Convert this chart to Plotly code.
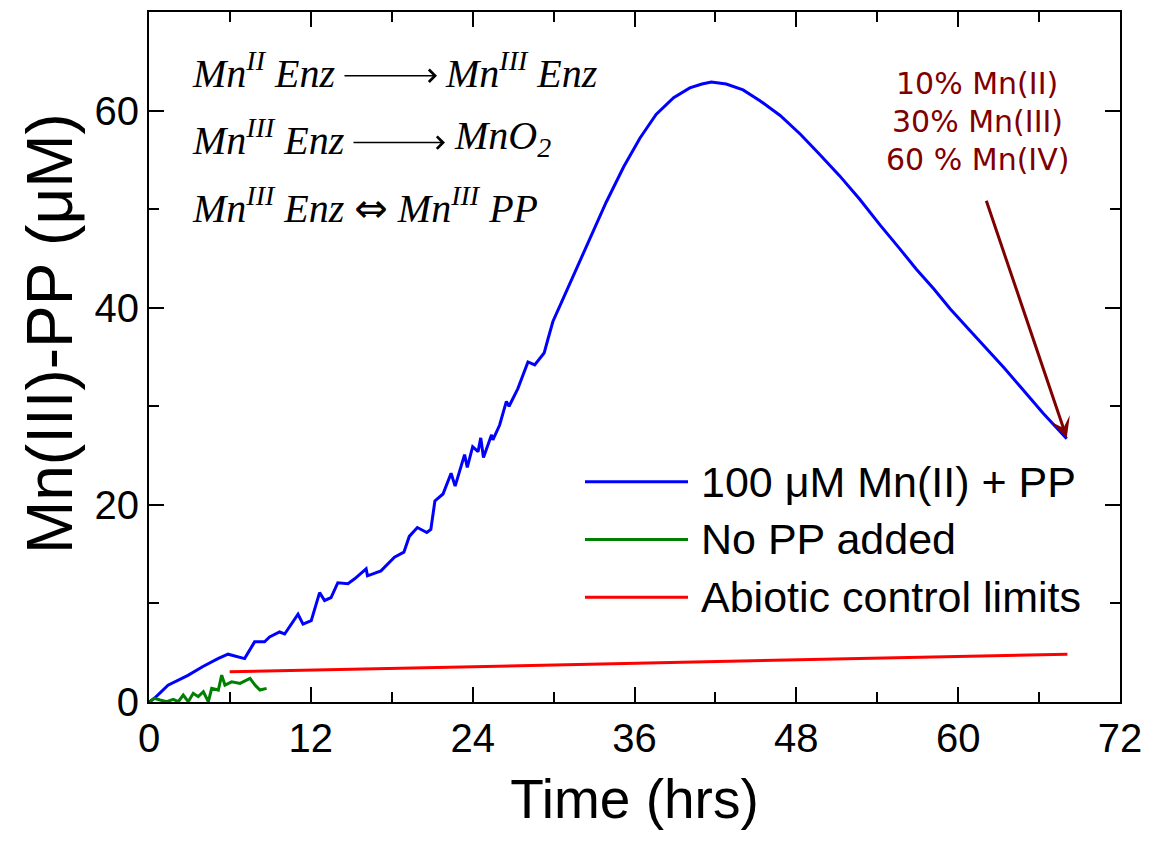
import plotly.graph_objects as go

# ---- data ----
blue_t = [0, 0.42, 1.41, 2.89, 4.0, 5.11, 5.86, 6.5, 7.09, 7.83, 8.57, 8.94, 9.68, 10.06,
          11.05, 11.42, 12.03, 12.65, 13.02, 13.5, 14.0, 14.75, 15.25, 16.1, 16.2, 17.2,
          18.2, 18.9, 19.3, 19.9, 20.6, 20.9, 21.2, 21.8, 22.4, 22.7, 23.4, 23.6, 24.0,
          24.4, 24.6, 24.8, 25.4, 25.5, 26.0, 26.5, 26.7, 27.35, 28.1, 28.6, 29.3, 29.6,
          29.95, 30.6, 31.45, 32.7, 33.9, 35.2, 36.4, 37.6, 38.9, 40.1, 41.0, 41.7, 42.8,
          44.05, 45.3, 46.8, 48.3, 49.7, 51.2, 52.7, 54.2, 55.6, 56.9, 58.2, 59.4, 60.8,
          62.1, 63.4, 64.6, 66.3, 68.05]
blue_v = [0, 0.4, 1.7, 2.7, 3.6, 4.4, 4.85, 4.6, 4.4, 6.1, 6.1, 6.6, 7.1, 6.9,
          8.9, 7.9, 8.25, 11.1, 10.3, 10.6, 12.1, 12.0, 12.5, 13.5, 12.8, 13.3,
          14.7, 15.2, 16.8, 17.7, 17.2, 17.5, 20.4, 21.1, 23.2, 21.9, 25.1, 23.8, 25.9,
          25.4, 26.8, 24.8, 27.1, 26.6, 28.1, 30.5, 30.0, 31.8, 34.5, 34.2, 35.4, 36.9,
          38.6, 40.6, 43.2, 47.0, 50.7, 54.3, 57.2, 59.6, 61.3, 62.3, 62.7, 62.9, 62.7,
          62.1, 61.0, 59.5, 57.6, 55.6, 53.4, 51.0, 48.4, 46.1, 43.9, 41.9, 39.9, 37.8,
          35.9, 33.9, 32.0, 29.3, 26.7]

green_t = [0.07, 0.4, 0.82, 1.31, 1.8, 2.17, 2.54, 2.91, 3.28, 3.65, 4.03, 4.4, 4.65,
           5.14, 5.39, 5.63, 6.13, 6.75, 7.49, 7.86, 8.23, 8.72]
green_v = [0.03, 0.37, 0.2, 0.03, 0.27, 0.03, 0.71, 0.03, 0.88, 0.54, 1.04, 0.03, 1.38,
           1.21, 2.73, 1.72, 2.05, 1.89, 2.4, 1.72, 1.21, 1.38]

red_t = [5.98, 68.1]
red_v = [3.06, 4.85]

series_names = ["100 \u03bcM Mn(II) + PP", "No PP added", "Abiotic control limits"]
series_colors = ["#0000ff", "#008000", "#ff0000"]

x_ticks = [0, 12, 24, 36, 48, 60, 72]
y_ticks = [0, 20, 40, 60]

note_lines = ["10% Mn(II)", "30% Mn(III)", "60 % Mn(IV)"]
arrow_head = (68.05, 26.8)
arrow_tail = (62.05, 51.0)

SANS = "Liberation Sans, Arial, sans-serif"
SERIF = "Liberation Serif, Times New Roman, serif"

fig = go.Figure()
fig.add_trace(go.Scatter(x=blue_t, y=blue_v, mode="lines", name=series_names[0],
                         line=dict(color=series_colors[0], width=3), showlegend=False))
fig.add_trace(go.Scatter(x=green_t, y=green_v, mode="lines", name=series_names[1],
                         line=dict(color=series_colors[1], width=3), showlegend=False))
fig.add_trace(go.Scatter(x=red_t, y=red_v, mode="lines", name=series_names[2],
                         line=dict(color=series_colors[2], width=3), showlegend=False))

L, R, T, B = 149, 38, 10, 141
W, H = 1158, 843
pw, ph = W - L - R, H - T - B

def px2paper(px, py):
    return (px - L) / pw, (H - B - py) / ph

axis_common = dict(showgrid=False, zeroline=False, showline=True, linecolor="black",
                   linewidth=2, mirror="ticks", ticks="inside", ticklen=15,
                   tickwidth=2, tickcolor="black",
                   tickfont=dict(family=SANS, size=40, color="black"))

fig.update_xaxes(range=[0, 72], tickvals=x_ticks, **axis_common,
                 minor=dict(dtick=6, ticks="inside", ticklen=10, tickwidth=2,
                            tickcolor="black"),
                 title=dict(text="Time (hrs)", font=dict(family=SANS, size=55, color="black"),
                            standoff=20))
fig.update_yaxes(range=[0, 70], tickvals=y_ticks, **axis_common,
                 minor=dict(dtick=10, ticks="inside", ticklen=10, tickwidth=2,
                            tickcolor="black"))

annotations = []
# y-axis title
annotations.append(dict(text="Mn(III)-PP (\u03bcM)", xref="paper", yref="paper",
                        x=(50 - L) / pw, y=(H - B - 333) / ph, showarrow=False,
                        textangle=-90, xanchor="center", yanchor="middle",
                        font=dict(family=SANS, size=64, color="black")))

# reaction scheme: left part, arrow, right part
EQF = dict(family=SERIF, size=40, color="black")
eq_rows = [
    # (left text, right text, y centre, arrow x0, arrow x1, right text x)
    ("<i>Mn<sup>II</sup> Enz</i>", "<i>Mn<sup>III</sup> Enz</i>", 69, 343, 437, 443),
    ("<i>Mn<sup>III</sup> Enz</i>", "<i>MnO<sub>2</sub></i>", 136, 352, 445, 452),
]
for left, right, yc, a0, a1, rx in eq_rows:
    xp, yp = px2paper(190, yc)
    annotations.append(dict(text=left, xref="paper", yref="paper", x=xp, y=yp,
                            showarrow=False, xanchor="left", yanchor="middle", font=EQF))
    xp, _ = px2paper(rx, yc)
    annotations.append(dict(text=right, xref="paper", yref="paper", x=xp, y=yp,
                            showarrow=False, xanchor="left", yanchor="middle", font=EQF))
    hx, hy = px2paper(a1, yc + 5)
    annotations.append(dict(text="", xref="paper", yref="paper", x=hx, y=hy,
                            ax=-(a1 - a0), ay=0, showarrow=True, arrowhead=4,
                            arrowsize=1.6, arrowwidth=1.5, arrowcolor="black"))
xp, yp = px2paper(190, 204)
annotations.append(dict(
    text="<i>Mn<sup>III</sup> Enz</i> <span style=\"font-family:DejaVu Sans\">\u21d4</span> <i>Mn<sup>III</sup> PP</i>",
    xref="paper", yref="paper", x=xp, y=yp, showarrow=False, xanchor="left",
    yanchor="middle", font=EQF))

# note text + arrow
for i, txt in enumerate(note_lines):
    xp, yp = px2paper(977, 82 + i * 38)
    annotations.append(dict(text=txt, xref="paper", yref="paper", x=xp, y=yp,
                            showarrow=False, xanchor="center", yanchor="middle",
                            font=dict(family="Comic Sans MS, DejaVu Sans, sans-serif",
                                      size=30, color="#800000")))
annotations.append(dict(x=arrow_head[0], y=arrow_head[1], ax=arrow_tail[0], ay=arrow_tail[1],
                        xref="x", yref="y", axref="x", ayref="y", text="",
                        showarrow=True, arrowhead=3, arrowsize=1.15, arrowwidth=3,
                        arrowcolor="#800000"))

# legend (manual, long line samples)
shapes = []
leg_y = [481, 539, 597]
for name, col, py in zip(series_names, series_colors, leg_y):
    x0, yp = px2paper(585, py)
    x1, _ = px2paper(688, py)
    shapes.append(dict(type="line", xref="paper", yref="paper", x0=x0, x1=x1, y0=yp, y1=yp,
                       line=dict(color=col, width=3)))
    xt, _ = px2paper(699, py)
    annotations.append(dict(text=name, xref="paper", yref="paper", x=xt, y=yp,
                            showarrow=False, xanchor="left", yanchor="middle",
                            font=dict(family=SANS, size=43, color="black")))

fig.update_layout(width=W, height=H, margin=dict(l=L, r=R, t=T, b=B),
                  plot_bgcolor="white", paper_bgcolor="white",
                  annotations=annotations, shapes=shapes, showlegend=False)

fig.write_html("out.html")
